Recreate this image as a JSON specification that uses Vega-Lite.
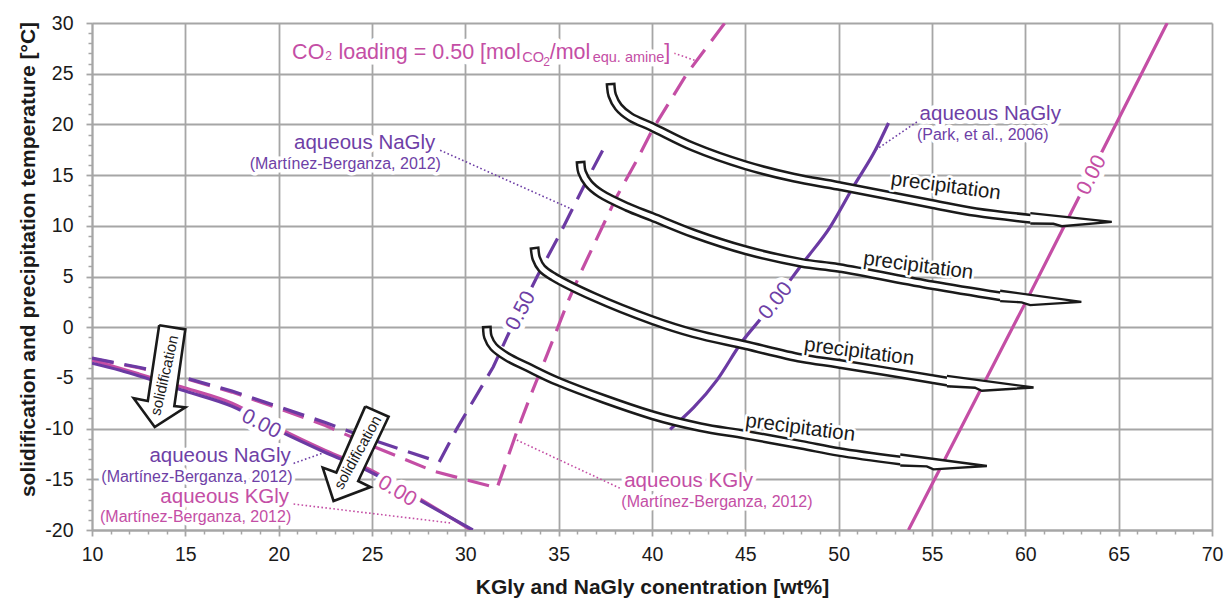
{
  "$schema": "https://vega.github.io/schema/vega-lite/v6.json",
  "width": 1120,
  "height": 507,
  "autosize": {"type": "none"},
  "padding": {"left": 92, "top": 23, "right": 13, "bottom": 68},
  "background": "white",
  "config": {"view": {"stroke": null}, "font": "Liberation Sans"},
  "datasets": {
    "c": [
      {"s":"pkS","x":10,"y":-3.25},{"s":"pkS","x":12.5,"y":-4.6},{"s":"pkS","x":15,"y":-6.0},{"s":"pkS","x":17.5,"y":-7.5},{"s":"pkS","x":20,"y":-9.95},{"s":"pkS","x":22.5,"y":-12.15},{"s":"pkS","x":25,"y":-14.15},{"s":"pkS","x":27.5,"y":-16.85},{"s":"pkS","x":30.3,"y":-20},
      {"s":"ppS","x":10,"y":-3.55},{"s":"ppS","x":11.5,"y":-4.25},{"s":"ppS","x":15,"y":-6.3},{"s":"ppS","x":17.5,"y":-7.8},{"s":"ppS","x":20,"y":-10.2},{"s":"ppS","x":22.5,"y":-12.35},{"s":"ppS","x":25,"y":-14.35},{"s":"ppS","x":27.5,"y":-17.0},{"s":"ppS","x":30.4,"y":-20},
      {"s":"ppP","x":40.97,"y":-10.08},{"s":"ppP","x":43.48,"y":-5.22},{"s":"ppP","x":44.82,"y":-1.44},{"s":"ppP","x":45.9,"y":1.0},{"s":"ppP","x":48.2,"y":6.6},{"s":"ppP","x":49.55,"y":9.9},{"s":"ppP","x":50.8,"y":13.9},{"s":"ppP","x":51.96,"y":17.45},{"s":"ppP","x":52.67,"y":20.14},
      {"s":"pkR","x":53.74,"y":-20},{"s":"pkR","x":60.0,"y":2.4},{"s":"pkR","x":67.6,"y":30},
      {"s":"ppD","x":10,"y":-3.05},{"s":"ppD","x":12.5,"y":-3.95},{"s":"ppD","x":15,"y":-5.0},{"s":"ppD","x":17.5,"y":-6.3},{"s":"ppD","x":20,"y":-7.85},{"s":"ppD","x":22.5,"y":-9.4},{"s":"ppD","x":25,"y":-11.1},{"s":"ppD","x":28.6,"y":-13.3},{"s":"ppD","x":29.55,"y":-10.0},{"s":"ppD","x":31.5,"y":-3.9},{"s":"ppD","x":32.4,"y":-0.3},{"s":"ppD","x":33.84,"y":4.97},{"s":"ppD","x":35.08,"y":9.24},{"s":"ppD","x":36.42,"y":14.17},{"s":"ppD","x":37.6,"y":18.3},
      {"s":"pkD","x":10,"y":-3.1},{"s":"pkD","x":12.5,"y":-4.0},{"s":"pkD","x":15,"y":-5.05},{"s":"pkD","x":17.5,"y":-6.4},{"s":"pkD","x":20,"y":-8.0},{"s":"pkD","x":22.5,"y":-9.7},{"s":"pkD","x":25,"y":-11.7},{"s":"pkD","x":28.3,"y":-14.2},{"s":"pkD","x":31.7,"y":-15.85},{"s":"pkD","x":32.76,"y":-10.3},{"s":"pkD","x":33.57,"y":-6.4},{"s":"pkD","x":34.37,"y":-2.75},{"s":"pkD","x":35.53,"y":2.67},{"s":"pkD","x":36.16,"y":5.3},{"s":"pkD","x":38.1,"y":12.85},{"s":"pkD","x":39.19,"y":16.47},{"s":"pkD","x":40.0,"y":19.4},{"s":"pkD","x":41.87,"y":25.0},{"s":"pkD","x":43.9,"y":30}
    ],
    "lead": [
      {"c":"p","g":1,"x":28.65,"y":17.45},{"c":"p","g":1,"x":35.62,"y":11.71},
      {"c":"p","g":2,"x":54.19,"y":20.24},{"c":"p","g":2,"x":51.96,"y":17.45},
      {"c":"p","g":3,"x":20.8,"y":-13.43},{"c":"p","g":3,"x":22.32,"y":-12.44},
      {"c":"k","g":4,"x":20.8,"y":-17.44},{"c":"k","g":4,"x":29.19,"y":-19.3},
      {"c":"k","g":5,"x":32.76,"y":-11.13},{"c":"k","g":5,"x":38.3,"y":-15.89},
      {"c":"k","g":6,"x":40.98,"y":27.14},{"c":"k","g":6,"x":42.3,"y":26.32}
    ],
    "sh": [
      {"a":1,"x":37.8,"y":23.6},{"a":1,"x":37.87,"y":22.87},{"a":1,"x":38.2,"y":21.72},{"a":1,"x":38.83,"y":20.74},{"a":1,"x":40.0,"y":19.75},{"a":1,"x":42.22,"y":17.78},{"a":1,"x":45.0,"y":15.97},{"a":1,"x":47.6,"y":14.75},{"a":1,"x":50.0,"y":13.94},{"a":1,"x":55.0,"y":12.15},{"a":1,"x":57.35,"y":11.35},{"a":1,"x":60.27,"y":10.7},
      {"a":2,"x":36.19,"y":15.9},{"a":2,"x":36.25,"y":15.3},{"a":2,"x":36.6,"y":14.17},{"a":2,"x":37.23,"y":13.19},{"a":2,"x":38.65,"y":11.87},{"a":2,"x":40.0,"y":10.88},{"a":2,"x":42.22,"y":9.24},{"a":2,"x":45.0,"y":7.6},{"a":2,"x":48.0,"y":6.35},{"a":2,"x":50.0,"y":5.85},{"a":2,"x":55.0,"y":4.15},{"a":2,"x":58.65,"y":3.05},
      {"a":3,"x":33.73,"y":7.43},{"a":3,"x":33.8,"y":6.78},{"a":3,"x":34.1,"y":5.8},{"a":3,"x":34.72,"y":4.97},{"a":3,"x":36.87,"y":3.0},{"a":3,"x":40.0,"y":0.7},{"a":3,"x":42.22,"y":-0.6},{"a":3,"x":45.0,"y":-1.77},{"a":3,"x":48.0,"y":-3.05},{"a":3,"x":50.0,"y":-3.6},{"a":3,"x":55.8,"y":-5.35},
      {"a":4,"x":31.16,"y":-0.36},{"a":4,"x":31.21,"y":-0.95},{"a":4,"x":31.51,"y":-1.93},{"a":4,"x":32.23,"y":-2.92},{"a":4,"x":33.3,"y":-3.9},{"a":4,"x":35.0,"y":-5.38},{"a":4,"x":40.0,"y":-8.67},{"a":4,"x":42.58,"y":-9.85},{"a":4,"x":45.0,"y":-10.6},{"a":4,"x":48.0,"y":-11.6},{"a":4,"x":50.0,"y":-12.3},{"a":4,"x":53.3,"y":-13.15}
    ],
    "hd": [
      {"a":1,"x":60.27,"y":11.25},{"a":1,"x":64.63,"y":10.39},{"a":1,"x":61.95,"y":9.96},{"a":1,"x":61.5,"y":10.2},{"a":1,"x":60.27,"y":10.22},
      {"a":2,"x":58.65,"y":3.6},{"a":2,"x":63.0,"y":2.5},{"a":2,"x":60.26,"y":2.18},{"a":2,"x":59.8,"y":2.45},{"a":2,"x":58.65,"y":2.57},
      {"a":3,"x":55.8,"y":-4.8},{"a":3,"x":60.44,"y":-5.94},{"a":3,"x":57.67,"y":-6.27},{"a":3,"x":57.3,"y":-5.97},{"a":3,"x":55.8,"y":-5.83},
      {"a":4,"x":53.3,"y":-12.55},{"a":4,"x":57.94,"y":-13.69},{"a":4,"x":55.08,"y":-14.02},{"a":4,"x":54.72,"y":-13.72},{"a":4,"x":53.3,"y":-13.64}
    ],
    "sa": [
      {"a":1,"x":13.6,"y":0.2},{"a":1,"x":15.0,"y":-0.22},{"a":1,"x":14.41,"y":-7.78},{"a":1,"x":15.0,"y":-7.9},{"a":1,"x":13.36,"y":-9.85},{"a":1,"x":12.23,"y":-7.0},{"a":1,"x":12.99,"y":-7.27},{"a":1,"x":13.6,"y":0.2},
      {"a":2,"x":24.64,"y":-7.81},{"a":2,"x":25.89,"y":-8.83},{"a":2,"x":24.26,"y":-15.17},{"a":2,"x":24.92,"y":-15.76},{"a":2,"x":22.94,"y":-17.14},{"a":2,"x":22.36,"y":-13.84},{"a":2,"x":23.09,"y":-14.33},{"a":2,"x":24.64,"y":-7.81}
    ]
  },
  "resolve": {"axis": {"x": "independent", "y": "independent"}},
  "layer": [
    {
      "data": {"values": [{"x": 10, "y": -20}]},
      "mark": {"type": "point", "opacity": 0},
      "encoding": {
        "x": {"field": "x", "type": "quantitative", "scale": {"domain": [10, 70], "nice": false, "zero": false},
          "axis": {"orient": "bottom", "values": [11,12,13,14,16,17,18,19,21,22,23,24,26,27,28,29,31,32,33,34,36,37,38,39,41,42,43,44,46,47,48,49,51,52,53,54,56,57,58,59,61,62,63,64,66,67,68,69], "labels": false, "grid": false, "domain": false, "title": null, "tickSize": 4, "tickColor": "#a6a6a6", "tickWidth": 1.5}},
        "y": {"field": "y", "type": "quantitative", "scale": {"domain": [-20, 30], "nice": false, "zero": false},
          "axis": {"orient": "left", "values": [-19,-18,-17,-16,-14,-13,-12,-11,-9,-8,-7,-6,-4,-3,-2,-1,1,2,3,4,6,7,8,9,11,12,13,14,16,17,18,19,21,22,23,24,26,27,28,29], "labels": false, "grid": false, "domain": false, "title": null, "tickSize": 4, "tickColor": "#a6a6a6", "tickWidth": 1.5}}
      }
    },
    {
      "encoding": {
        "x": {"field": "x", "type": "quantitative", "scale": {"domain": [10, 70], "nice": false, "zero": false},
          "axis": {"orient": "bottom", "values": [10,15,20,25,30,35,40,45,50,55,60,65,70], "title": "KGly and NaGly conentration [wt%]", "grid": true, "gridColor": "#a6a6a6", "gridWidth": 1.8, "domainColor": "#a6a6a6", "domainWidth": 1.8, "tickColor": "#a6a6a6", "tickWidth": 1.8, "tickSize": 6, "labelFont": "Liberation Sans", "labelFontSize": 19.5, "labelColor": "#1a1a1a", "labelPadding": 9, "labelFlush": false, "labelOverlap": false, "titleFont": "Liberation Sans", "titleFontSize": 21, "titleFontWeight": "bold", "titleColor": "#1a1a1a", "titleY": 63, "titleBaseline": "alphabetic"}},
        "y": {"field": "y", "type": "quantitative", "scale": {"domain": [-20, 30], "nice": false, "zero": false},
          "axis": {"orient": "left", "values": [-20,-15,-10,-5,0,5,10,15,20,25,30], "labelExpr": "datum.value < 0 ? '-' + abs(datum.value) : '' + datum.value", "title": "solidification and precipitation temperature [°C]", "grid": true, "gridColor": "#a6a6a6", "gridWidth": 1.8, "domainColor": "#a6a6a6", "domainWidth": 1.8, "tickColor": "#a6a6a6", "tickWidth": 1.8, "tickSize": 6, "labelFont": "Liberation Sans", "labelFontSize": 19.5, "labelColor": "#1a1a1a", "labelPadding": 13, "labelFlush": false, "labelOverlap": false, "titleFont": "Liberation Sans", "titleFontSize": 21, "titleFontWeight": "bold", "titleColor": "#1a1a1a", "titleX": -58, "titleY": 236, "titleAngle": 270, "titleBaseline": "alphabetic"}}
      },
      "layer": [
        {"data": {"name": "c"}, "transform": [{"filter": "datum.s === 'pkS' || datum.s === 'pkR'"}],
         "mark": {"type": "line", "color": "#c44ea5", "strokeWidth": 3.2, "interpolate": "monotone", "clip": true},
         "encoding": {"detail": {"field": "s"}}},
        {"data": {"name": "c"}, "transform": [{"filter": "datum.s === 'ppS' || datum.s === 'ppP'"}],
         "mark": {"type": "line", "color": "#6b3aa3", "strokeWidth": 3.2, "interpolate": "monotone", "clip": true},
         "encoding": {"detail": {"field": "s"}}},
        {"data": {"name": "c"}, "transform": [{"filter": "datum.s === 'pkD'"}],
         "mark": {"type": "line", "color": "#c44ea5", "strokeWidth": 3.2, "strokeDash": [22, 11], "clip": true},
         "encoding": {"detail": {"field": "s"}}},
        {"data": {"name": "c"}, "transform": [{"filter": "datum.s === 'ppD'"}],
         "mark": {"type": "line", "color": "#6b3aa3", "strokeWidth": 3.2, "strokeDash": [22, 11], "clip": true},
         "encoding": {"detail": {"field": "s"}}},
        {"data": {"name": "lead"}, "transform": [{"filter": "datum.c === 'p'"}],
         "mark": {"type": "line", "color": "#6e3fa6", "strokeWidth": 1.6, "strokeDash": [1.6, 2.4]},
         "encoding": {"detail": {"field": "g"}, "order": {"value": null}}},
        {"data": {"name": "lead"}, "transform": [{"filter": "datum.c === 'k'"}],
         "mark": {"type": "line", "color": "#c44ea5", "strokeWidth": 1.6, "strokeDash": [1.6, 2.4]},
         "encoding": {"detail": {"field": "g"}, "order": {"value": null}}},

        {"data": {"name": "sh"},
         "mark": {"type": "line", "color": "#1a1a1a", "strokeWidth": 10, "strokeCap": "square", "strokeJoin": "round", "interpolate": "catmull-rom"},
         "encoding": {"detail": {"field": "a"}, "order": {"value": null}}},
        {"data": {"name": "sh"},
         "mark": {"type": "line", "color": "white", "strokeWidth": 5, "strokeCap": "square", "strokeJoin": "round", "interpolate": "catmull-rom"},
         "encoding": {"detail": {"field": "a"}, "order": {"value": null}}},
        {"data": {"name": "hd"},
         "mark": {"type": "line", "stroke": "#1a1a1a", "fill": "white", "strokeWidth": 2.4, "strokeJoin": "miter"},
         "encoding": {"detail": {"field": "a"}, "order": {"value": null}}},
        {"data": {"name": "sa"},
         "mark": {"type": "line", "stroke": "#1a1a1a", "fill": "white", "strokeWidth": 2.6, "strokeJoin": "miter"},
         "encoding": {"detail": {"field": "a"}, "order": {"value": null}}},

        {"data": {"values": [{"t": "solidification", "x": 13.88, "y": -4.75}]},
         "mark": {"type": "text", "font": "Liberation Sans", "fontSize": 15, "angle": -77, "align": "center", "baseline": "middle", "color": "#1a1a1a"},
         "encoding": {"text": {"field": "t"}}},
        {"data": {"values": [{"t": "solidification", "x": 24.23, "y": -12.35}]},
         "mark": {"type": "text", "font": "Liberation Sans", "fontSize": 15, "angle": -61, "align": "center", "baseline": "middle", "color": "#1a1a1a"},
         "encoding": {"text": {"field": "t"}}},

        {"data": {"values": [{"t": "precipitation", "x": 55.74, "y": 13.9}, {"t": "precipitation", "x": 54.27, "y": 6.05}, {"t": "precipitation", "x": 51.1, "y": -2.43}, {"t": "precipitation", "x": 47.94, "y": -9.93}]},
         "mark": {"type": "text", "font": "Liberation Sans", "fontSize": 20.5, "angle": 7.5, "align": "center", "baseline": "middle", "color": "white", "stroke": "white", "strokeWidth": 5, "strokeJoin": "round"},
         "encoding": {"text": {"field": "t"}}},
        {"data": {"values": [{"t": "precipitation", "x": 55.74, "y": 13.9}, {"t": "precipitation", "x": 54.27, "y": 6.05}, {"t": "precipitation", "x": 51.1, "y": -2.43}, {"t": "precipitation", "x": 47.94, "y": -9.93}]},
         "mark": {"type": "text", "font": "Liberation Sans", "fontSize": 20.5, "angle": 7.5, "align": "center", "baseline": "middle", "color": "#1a1a1a"},
         "encoding": {"text": {"field": "t"}}},

        {"data": {"values": [{"t": "0.00", "x": 19.06, "y": -9.57}]},
         "mark": {"type": "text", "font": "Liberation Sans", "fontSize": 21, "angle": 27, "align": "center", "baseline": "middle", "color": "white", "stroke": "white", "strokeWidth": 10, "strokeJoin": "round"},
         "encoding": {"text": {"field": "t"}}},
        {"data": {"values": [{"t": "0.00", "x": 19.06, "y": -9.57}]},
         "mark": {"type": "text", "font": "Liberation Sans", "fontSize": 21, "angle": 27, "align": "center", "baseline": "middle", "color": "#6e3fa6"},
         "encoding": {"text": {"field": "t"}}},
        {"data": {"values": [{"t": "0.00", "x": 26.34, "y": -16.2}]},
         "mark": {"type": "text", "font": "Liberation Sans", "fontSize": 21, "angle": 31, "align": "center", "baseline": "middle", "color": "white", "stroke": "white", "strokeWidth": 10, "strokeJoin": "round"},
         "encoding": {"text": {"field": "t"}}},
        {"data": {"values": [{"t": "0.00", "x": 26.34, "y": -16.2}]},
         "mark": {"type": "text", "font": "Liberation Sans", "fontSize": 21, "angle": 31, "align": "center", "baseline": "middle", "color": "#c44ea5"},
         "encoding": {"text": {"field": "t"}}},
        {"data": {"values": [{"t": "0.50", "x": 32.98, "y": 1.6}]},
         "mark": {"type": "text", "font": "Liberation Sans", "fontSize": 21, "angle": -62, "align": "center", "baseline": "middle", "color": "white", "stroke": "white", "strokeWidth": 10, "strokeJoin": "round"},
         "encoding": {"text": {"field": "t"}}},
        {"data": {"values": [{"t": "0.50", "x": 32.98, "y": 1.6}]},
         "mark": {"type": "text", "font": "Liberation Sans", "fontSize": 21, "angle": -62, "align": "center", "baseline": "middle", "color": "#6e3fa6"},
         "encoding": {"text": {"field": "t"}}},
        {"data": {"values": [{"t": "0.00", "x": 46.64, "y": 2.59}]},
         "mark": {"type": "text", "font": "Liberation Sans", "fontSize": 21, "angle": -52, "align": "center", "baseline": "middle", "color": "white", "stroke": "white", "strokeWidth": 10, "strokeJoin": "round"},
         "encoding": {"text": {"field": "t"}}},
        {"data": {"values": [{"t": "0.00", "x": 46.64, "y": 2.59}]},
         "mark": {"type": "text", "font": "Liberation Sans", "fontSize": 21, "angle": -52, "align": "center", "baseline": "middle", "color": "#6e3fa6"},
         "encoding": {"text": {"field": "t"}}},
        {"data": {"values": [{"t": "0.00", "x": 63.57, "y": 14.99}]},
         "mark": {"type": "text", "font": "Liberation Sans", "fontSize": 21, "angle": -63, "align": "center", "baseline": "middle", "color": "white", "stroke": "white", "strokeWidth": 10, "strokeJoin": "round"},
         "encoding": {"text": {"field": "t"}}},
        {"data": {"values": [{"t": "0.00", "x": 63.57, "y": 14.99}]},
         "mark": {"type": "text", "font": "Liberation Sans", "fontSize": 21, "angle": -63, "align": "center", "baseline": "middle", "color": "#c44ea5"},
         "encoding": {"text": {"field": "t"}}},

        {"data": {"values": [{"t": "aqueous NaGly", "x": 24.61, "y": 17.62}, {"t": "aqueous NaGly", "x": 58.12, "y": 20.41}, {"t": "aqueous NaGly", "x": 16.86, "y": -13.27}]},
         "mark": {"type": "text", "font": "Liberation Sans", "fontSize": 20.5, "align": "center", "baseline": "alphabetic", "color": "white", "stroke": "white", "strokeWidth": 8, "strokeJoin": "round"},
         "encoding": {"text": {"field": "t"}}},
        {"data": {"values": [{"t": "aqueous KGly", "x": 17.11, "y": -17.37}, {"t": "aqueous KGly", "x": 41.96, "y": -15.73}]},
         "mark": {"type": "text", "font": "Liberation Sans", "fontSize": 20.5, "align": "center", "baseline": "alphabetic", "color": "white", "stroke": "white", "strokeWidth": 8, "strokeJoin": "round"},
         "encoding": {"text": {"field": "t"}}},
        {"data": {"values": [{"t": "(Martínez-Berganza, 2012)", "x": 23.57, "y": 15.58}, {"t": "(Park, et al., 2006)", "x": 57.72, "y": 18.44}, {"t": "(Martínez-Berganza, 2012)", "x": 15.62, "y": -15.24}, {"t": "(Martínez-Berganza, 2012)", "x": 15.55, "y": -19.18}, {"t": "(Martínez-Berganza, 2012)", "x": 43.48, "y": -17.7}]},
         "mark": {"type": "text", "font": "Liberation Sans", "fontSize": 16, "align": "center", "baseline": "alphabetic", "color": "white", "stroke": "white", "strokeWidth": 7, "strokeJoin": "round"},
         "encoding": {"text": {"field": "t"}}},
        {"data": {"values": [{"t": "aqueous NaGly", "x": 24.61, "y": 17.62}, {"t": "aqueous NaGly", "x": 58.12, "y": 20.41}, {"t": "aqueous NaGly", "x": 16.86, "y": -13.27}]},
         "mark": {"type": "text", "font": "Liberation Sans", "fontSize": 20.5, "align": "center", "baseline": "alphabetic", "color": "#6e3fa6"},
         "encoding": {"text": {"field": "t"}}},
        {"data": {"values": [{"t": "aqueous KGly", "x": 17.11, "y": -17.37}, {"t": "aqueous KGly", "x": 41.96, "y": -15.73}]},
         "mark": {"type": "text", "font": "Liberation Sans", "fontSize": 20.5, "align": "center", "baseline": "alphabetic", "color": "#c44ea5"},
         "encoding": {"text": {"field": "t"}}},
        {"data": {"values": [{"t": "(Martínez-Berganza, 2012)", "x": 23.57, "y": 15.58}, {"t": "(Park, et al., 2006)", "x": 57.72, "y": 18.44}, {"t": "(Martínez-Berganza, 2012)", "x": 15.62, "y": -15.24}]},
         "mark": {"type": "text", "font": "Liberation Sans", "fontSize": 16, "align": "center", "baseline": "alphabetic", "color": "#6e3fa6"},
         "encoding": {"text": {"field": "t"}}},
        {"data": {"values": [{"t": "(Martínez-Berganza, 2012)", "x": 15.55, "y": -19.18}, {"t": "(Martínez-Berganza, 2012)", "x": 43.48, "y": -17.7}]},
         "mark": {"type": "text", "font": "Liberation Sans", "fontSize": 16, "align": "center", "baseline": "alphabetic", "color": "#c44ea5"},
         "encoding": {"text": {"field": "t"}}},

        {"data": {"values": [{"t": "CO", "x": 20.72, "y": 26.49}, {"t": "loading = 0.50 [mol", "x": 23.2, "y": 26.49}, {"t": "/mol", "x": 34.52, "y": 26.49}, {"t": "]", "x": 40.66, "y": 26.49}]},
         "mark": {"type": "text", "font": "Liberation Sans", "fontSize": 21.5, "align": "left", "baseline": "alphabetic", "color": "white", "stroke": "white", "strokeWidth": 11, "strokeJoin": "round"},
         "encoding": {"text": {"field": "t"}}},
        {"data": {"values": [{"t": "CO", "x": 33.05, "y": 26.16}, {"t": "equ. amine", "x": 36.82, "y": 26.16}]},
         "mark": {"type": "text", "font": "Liberation Sans", "fontSize": 14.5, "align": "left", "baseline": "alphabetic", "color": "white", "stroke": "white", "strokeWidth": 9, "strokeJoin": "round"},
         "encoding": {"text": {"field": "t"}}},
        {"data": {"values": [{"t": "CO", "x": 20.72, "y": 26.49}, {"t": "loading = 0.50 [mol", "x": 23.2, "y": 26.49}, {"t": "/mol", "x": 34.52, "y": 26.49}, {"t": "]", "x": 40.66, "y": 26.49}]},
         "mark": {"type": "text", "font": "Liberation Sans", "fontSize": 21.5, "align": "left", "baseline": "alphabetic", "color": "#c44ea5"},
         "encoding": {"text": {"field": "t"}}},
        {"data": {"values": [{"t": "CO", "x": 33.05, "y": 26.16}, {"t": "equ. amine", "x": 36.82, "y": 26.16}]},
         "mark": {"type": "text", "font": "Liberation Sans", "fontSize": 14.5, "align": "left", "baseline": "alphabetic", "color": "#c44ea5"},
         "encoding": {"text": {"field": "t"}}},
        {"data": {"values": [{"t": "2", "x": 22.5, "y": 26.39}, {"t": "2", "x": 34.18, "y": 25.73}]},
         "mark": {"type": "text", "font": "Liberation Sans", "fontSize": 12, "align": "left", "baseline": "alphabetic", "color": "#c44ea5"},
         "encoding": {"text": {"field": "t"}}}
      ]
    }
  ]
}
